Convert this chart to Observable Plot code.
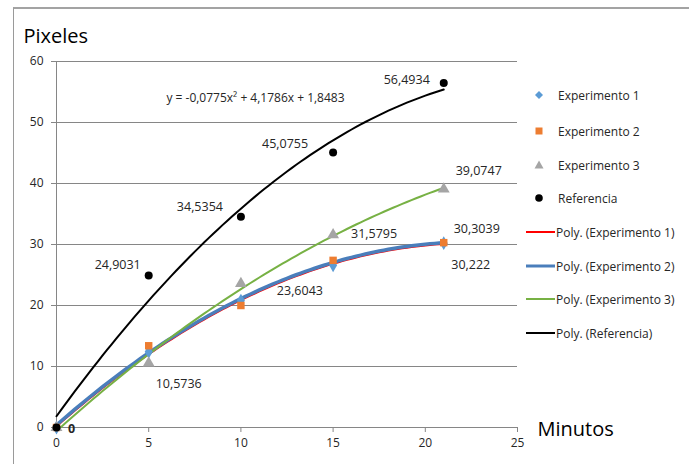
<!DOCTYPE html>
<html><head><meta charset="utf-8">
<script src="https://cdn.jsdelivr.net/npm/d3@7"></script>
<script src="https://cdn.jsdelivr.net/npm/@observablehq/plot@0.6"></script>
<style>
body{margin:0;background:#fff;font-family:"Open Sans",sans-serif;}
#wrap{position:relative;width:689px;height:464px;overflow:hidden;}
#frame{position:absolute;left:13px;top:7px;width:700px;height:480px;border-left:1px solid #9a9a9a;border-top:2px solid #a3a3a3;}
#chart{position:absolute;left:0;top:0;}
#chart svg{overflow:visible;}
g[aria-label="y-axis tick"], g[aria-label="x-axis tick"]{stroke:#868686;}
.leg{position:absolute;left:524px;font-size:12px;color:#262626;display:flex;align-items:center;height:20px;white-space:nowrap;}
.leg svg{margin-right:2px;}
</style></head><body>
<div id="wrap"><div id="frame"></div><div id="chart"></div><div id="legend"></div></div>
<script>
// ---- data ----
const minutos = [0, 5, 10, 15, 21];
const experimento1 = [0, 12.4, 20.8, 26.6, 30.222];
const experimento2 = [0, 13.4, 20.0, 27.4, 30.3039];
const experimento3 = [0, 10.5736, 23.6043, 31.5795, 39.0747];
const referencia = [0, 24.9031, 34.5354, 45.0755, 56.4934];
const seriesNames = ["Experimento 1", "Experimento 2", "Experimento 3", "Referencia"];
const trendNames = ["Poly. (Experimento 1)", "Poly. (Experimento 2)", "Poly. (Experimento 3)", "Poly. (Referencia)"];
const xTicks = [0, 5, 10, 15, 20, 25];
const yTicks = [0, 10, 20, 30, 40, 50, 60];
const equationText = "y = -0,0775x² + 4,1786x + 1,8483";
const xTitle = "Minutos";
const yTitle = "Pixeles";
// data labels: [series index, point index]
const labelRefs = [[3,1],[3,2],[3,3],[3,4],[2,4],[2,3],[1,4],[0,4],[2,2],[2,1],[2,0]];

// ---- styles / layout ----
const labelOffsets = [[-31,-11],[-41,-10],[-48,-9],[-37,-3],[35,-18],[41,-1],[33,-14],[27,22],[59,7],[30,21],[15,1]];
const markerStyle = [
  {symbol: "diamond", fill: "#5b9bd5", r: 4.2},
  {symbol: "square", fill: "#ed7d31", r: 4.2},
  {symbol: "triangle", fill: "#a5a5a5", r: 4.4},
  {symbol: "circle", fill: "#000000", r: 4}
];
const lineStyle = [
  {stroke: "#ff0000", strokeWidth: 2},
  {stroke: "#4a7ebb", strokeWidth: 3.5},
  {stroke: "#77b144", strokeWidth: 2},
  {stroke: "#000000", strokeWidth: 2}
];

const values = [experimento1, experimento2, experimento3, referencia];

// quadratic least-squares fit (Excel polynomial trendline, order 2)
function polyfit2(xs, ys) {
  const S = k => d3.sum(xs, x => x ** k);
  const T = k => d3.sum(xs, (x, i) => ys[i] * x ** k);
  const A = [[S(0), S(1), S(2), T(0)], [S(1), S(2), S(3), T(1)], [S(2), S(3), S(4), T(2)]];
  for (let i = 0; i < 3; i++) {
    for (let j = i + 1; j < 3; j++) {
      const f = A[j][i] / A[i][i];
      for (let k = i; k < 4; k++) A[j][k] -= f * A[i][k];
    }
  }
  const c = [0, 0, 0];
  for (let i = 2; i >= 0; i--) {
    let s = A[i][3];
    for (let k = i + 1; k < 3; k++) s -= A[i][k] * c[k];
    c[i] = s / A[i][i];
  }
  return c;
}

const points = values.map((ys, s) => minutos.map((x, i) => ({x, y: ys[i], s})));
const xFit = d3.range(d3.min(minutos), d3.max(minutos) + 0.001, 0.25);
const curves = values.map((ys, s) => {
  const c = polyfit2(minutos, ys);
  return xFit.map(x => ({x, y: c[0] + c[1] * x + c[2] * x * x, s}));
});

const fmt = v => String(v).replace(".", ",");

const marks = [
  Plot.gridY(yTicks, {stroke: "#868686", strokeOpacity: 1}),
  Plot.ruleX([0], {stroke: "#868686"}),
  Plot.ruleY([0], {stroke: "#868686"}),
  Plot.axisY({ticks: yTicks, tickSize: 5, tickPadding: 8, fontSize: 12, color: "#262626", label: null}),
  Plot.axisX({ticks: xTicks, tickSize: 5, tickPadding: 6, fontSize: 12, color: "#262626", label: null}),
  ...curves.map((c, s) => Plot.line(c, {x: "x", y: "y", ...lineStyle[s]})),
  ...points.map((p, s) => Plot.dot(p, {x: "x", y: "y", ...markerStyle[s], stroke: "none"})),
  ...labelRefs.map(([s, i], k) => Plot.text([points[s][i]], {
    x: "x", y: "y", text: d => fmt(d.y), dx: labelOffsets[k][0], dy: labelOffsets[k][1],
    fontSize: 12.5, fill: "#262626", fontWeight: k === labelRefs.length - 1 ? 700 : 400
  })),
  Plot.text([equationText], {frameAnchor: "top-left", textAnchor: "middle", dx: 199, dy: 32, text: d => d, fontSize: 12, fill: "#262626"}),
  Plot.text([yTitle], {frameAnchor: "top-left", textAnchor: "start", dx: -33, dy: -33, text: d => d, fontSize: 20, fill: "#000"}),
  Plot.text([xTitle], {frameAnchor: "bottom-right", textAnchor: "start", dx: 20, dy: 8, text: d => d, fontSize: 20, fill: "#000"})
];

const chart = Plot.plot({
  width: 689, height: 464,
  marginLeft: 56, marginRight: 172, marginTop: 61, marginBottom: 37,
  style: {fontFamily: "'Open Sans', sans-serif", background: "transparent"},
  x: {domain: [0, 25], axis: null},
  y: {domain: [0, 60], axis: null},
  marks
});
document.getElementById("chart").appendChild(chart);

// legend
const legend = document.getElementById("legend");
const rowY = [95, 131, 165, 198, 232, 266, 299, 333];
const symPaths = {
  diamond: "M15,3 L19,7 L15,11 L11,7 Z",
  square: "M11.5,3.5 h7 v7 h-7 Z",
  triangle: "M15,2.5 L19.5,10.5 L10.5,10.5 Z",
  circle: null
};
const entries = [
  ...seriesNames.map((n, s) => ({name: n, kind: "marker", s})),
  ...trendNames.map((n, s) => ({name: n, kind: "line", s}))
];
entries.forEach((e, k) => {
  const div = document.createElement("div");
  div.className = "leg";
  div.style.top = (rowY[k] - 10) + "px";
  let sw;
  if (e.kind === "marker") {
    const m = markerStyle[e.s];
    const shape = m.symbol === "circle"
      ? `<circle cx="15" cy="7" r="3.8" fill="${m.fill}"/>`
      : `<path d="${symPaths[m.symbol]}" fill="${m.fill}"/>`;
    sw = `<svg width="32" height="14">${shape}</svg>`;
  } else {
    const l = lineStyle[e.s];
    sw = `<svg width="32" height="14"><line x1="2" x2="31" y1="7" y2="7" stroke="${l.stroke}" stroke-width="${Math.min(l.strokeWidth, 3)}"/></svg>`;
  }
  div.innerHTML = sw + `<span style="margin-left:${e.kind === "marker" ? 0 : -2}px">${e.name}</span>`;
  legend.appendChild(div);
});
</script>
</body></html>
